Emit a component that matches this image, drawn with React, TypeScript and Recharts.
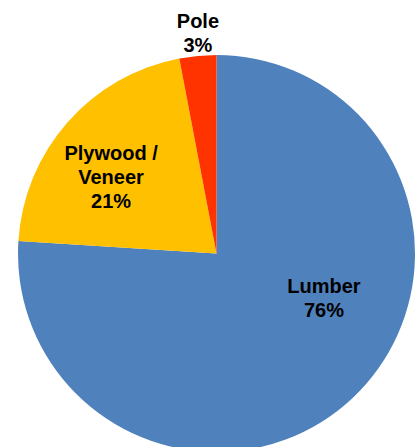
import { Pie, PieChart, Cell } from "recharts";

const categories = ["Lumber", "Plywood /\nVeneer", "Pole"];
const shares = [76, 21, 3];
const colors = ["#4F81BD", "#FFC000", "#FF3300"];

// label placement relative to each slice (radius fraction, degrees off mid-angle)
const labelRadius = [0.585, 0.655, 1.117];
const labelAngleShift = [24.5, 5.6, -0.6];

const data = categories.map((name, i) => ({ name, value: shares[i] }));

const RAD = Math.PI / 180;

function renderLabel(props: any) {
  const { cx, cy, midAngle, outerRadius, index, percent } = props;
  const angle = midAngle + labelAngleShift[index];
  const r = outerRadius * labelRadius[index];
  const x = cx + r * Math.cos(-angle * RAD);
  const y = cy + r * Math.sin(-angle * RAD);
  const lines = [...categories[index].split("\n"), `${Math.round(percent * 100)}%`];
  const step = 24;
  const firstY = y - ((lines.length - 1) * step) / 2 + 7;
  return (
    <text
      key={`lbl-${index}`}
      x={x}
      y={firstY}
      textAnchor="middle"
      fill="#000"
      style={{ fontFamily: "'Liberation Sans', Arial, sans-serif", fontWeight: 700, fontSize: 20 }}
    >
      {lines.map((line, i) => (
        <tspan key={i} x={x} y={firstY + i * step}>
          {line}
        </tspan>
      ))}
    </text>
  );
}

export default function App() {
  return (
    <div style={{ position: "absolute", left: 0, top: 0, width: 417, height: 447, background: "#fff" }}>
      <PieChart width={417} height={447} margin={{ top: 0, right: 0, bottom: 0, left: 0 }}>
        <Pie
          data={data}
          dataKey="value"
          nameKey="name"
          cx={216.5}
          cy={253.5}
          outerRadius={198.5}
          startAngle={90}
          endAngle={-270}
          stroke="none"
          label={renderLabel}
          labelLine={false}
          isAnimationActive={false}
        >
          {data.map((d, i) => (
            <Cell key={d.name} fill={colors[i]} />
          ))}
        </Pie>
      </PieChart>
    </div>
  );
}
